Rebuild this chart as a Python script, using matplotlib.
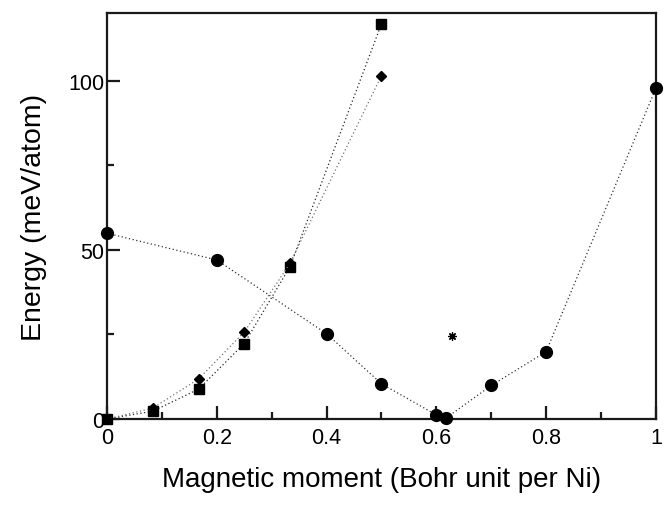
import matplotlib
matplotlib.use("Agg")
import matplotlib.pyplot as plt
from matplotlib.ticker import MultipleLocator, FixedLocator

plt.rcParams['font.family'] = ['Liberation Sans', 'DejaVu Sans']

# Circles series
circ_x = [0.0, 0.2, 0.4, 0.5, 0.6, 0.617, 0.7, 0.8, 1.0]
circ_y = [54.9, 47.0, 25.2, 10.4, 1.2, 0.2, 9.9, 19.9, 97.8]
# Squares series
sq_x = [0.0, 0.0833, 0.1667, 0.25, 0.3333, 0.5]
sq_y = [0.0, 2.3, 8.8, 22.3, 45.0, 116.8]
# Diamonds series
dm_x = [0.0, 0.0833, 0.1667, 0.25, 0.3333, 0.5]
dm_y = [0.0, 3.2, 11.8, 25.7, 46.0, 101.5]
# Star point
star_x = [0.628]
star_y = [24.5]

x_ticks = [0, 0.2, 0.4, 0.6, 0.8, 1.0]
x_ticklabels = ["0", "0.2", "0.4", "0.6", "0.8", "1"]
y_ticks = [0, 50, 100]
y_ticklabels = ["0", "50", "100"]

fig = plt.figure(figsize=(6.71, 5.06), dpi=100)
ax = fig.add_axes([0.1595, 0.17, 0.818, 0.8023])

ls = (0, (1, 2))
ax.plot(sq_x, sq_y, linestyle=ls, color='0.15', linewidth=0.9, marker='s',
        markersize=6.5, markerfacecolor='black', markeredgecolor='black', clip_on=False, zorder=3)
ax.plot(dm_x, dm_y, linestyle=ls, color='0.45', linewidth=0.9, marker='D',
        markersize=5.5, markerfacecolor='black', markeredgecolor='black', clip_on=False, zorder=3)
ax.plot(circ_x, circ_y, linestyle=ls, color='0.2', linewidth=0.9, marker='o',
        markersize=8.5, markerfacecolor='black', markeredgecolor='black', clip_on=False, zorder=4)
ax.plot(star_x, star_y, linestyle='none', marker=(8, 2, 0), markersize=6,
        color='black', markeredgewidth=0.9)

ax.set_xlim(0, 1)
ax.set_ylim(0, 120)
ax.xaxis.set_major_locator(FixedLocator(x_ticks))
ax.set_xticklabels(x_ticklabels)
ax.xaxis.set_minor_locator(MultipleLocator(0.1))
ax.yaxis.set_major_locator(FixedLocator(y_ticks))
ax.set_yticklabels(y_ticklabels)
ax.yaxis.set_minor_locator(MultipleLocator(25))

for s in ax.spines.values():
    s.set_linewidth(1.6)
    s.set_color('0.1')

ax.tick_params(which='major', direction='in', length=9.5, width=1.6, labelsize=15.5, color='0.1')
ax.tick_params(which='minor', direction='in', length=5, width=1.6, color='0.1')
ax.tick_params(axis='y', which='both', left=True, right=False, pad=2)
ax.tick_params(axis='x', which='both', bottom=True, top=False, pad=6)

ax.set_xlabel("Magnetic moment (Bohr unit per Ni)", fontsize=20, labelpad=13)
ax.set_ylabel("Energy (meV/atom)", fontsize=20.5, labelpad=15)

fig.savefig("out.png", dpi=100)
